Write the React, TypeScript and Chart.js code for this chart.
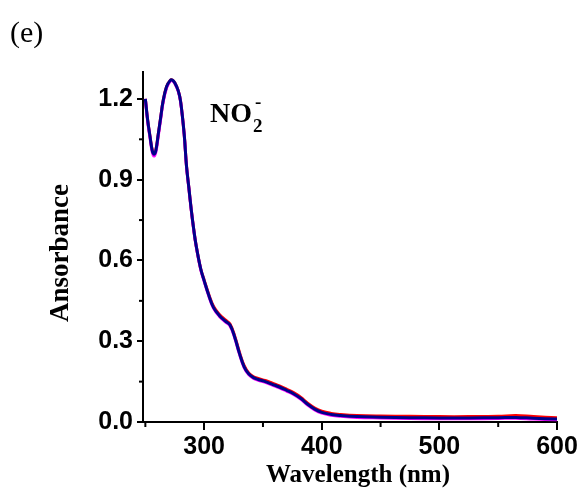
import React, { useEffect, useRef } from "react";
import { Chart, registerables } from "chart.js";

Chart.register(...registerables);

const wavelengths = [250,252,254,256,257.5,259,261,263,265,268,271,273,275,278,280,283,285,287,289,291,293,297,300,304,308,313,318,322,326,330,334,338,342,346,352,358,364,370,376,382,388,394,400,408,416,430,450,475,500,525,550,565,580,600];

const absRed = [1.20,1.12,1.06,1.008,0.998,1.012,1.07,1.13,1.19,1.245,1.268,1.27,1.26,1.23,1.19,1.07,0.95,0.87,0.79,0.72,0.66,0.57,0.527,0.473,0.429,0.399,0.379,0.364,0.319,0.259,0.209,0.181,0.168,0.162,0.154,0.144,0.134,0.122,0.109,0.092,0.07,0.052,0.04,0.032,0.028,0.024,0.022,0.021,0.02,0.02,0.021,0.024,0.02,0.016];

const absMagenta = [1.20,1.115,1.055,1.0,0.988,1.004,1.063,1.125,1.185,1.24,1.265,1.268,1.258,1.228,1.188,1.068,0.948,0.868,0.788,0.718,0.658,0.568,0.522,0.467,0.422,0.392,0.372,0.357,0.312,0.252,0.202,0.175,0.162,0.155,0.147,0.137,0.127,0.115,0.102,0.085,0.063,0.045,0.033,0.025,0.021,0.017,0.015,0.013,0.012,0.012,0.013,0.014,0.011,0.008];

const absBlue = [1.20,1.12,1.06,1.005,0.995,1.01,1.07,1.13,1.19,1.245,1.268,1.27,1.26,1.23,1.19,1.07,0.95,0.87,0.79,0.72,0.66,0.57,0.525,0.47,0.425,0.395,0.375,0.36,0.315,0.255,0.205,0.178,0.165,0.158,0.15,0.14,0.13,0.118,0.105,0.088,0.066,0.048,0.036,0.028,0.024,0.02,0.018,0.016,0.015,0.015,0.016,0.017,0.014,0.011];

const xMajorTicks = [300, 400, 500, 600];
const xMinorTicks = [250, 350, 450, 550];
const yMajorTicks = [0, 0.3, 0.6, 0.9, 1.2];
const yMinorTicks = [0.15, 0.45, 0.75, 1.05];

const xTitle = "Wavelength (nm)";
const yTitle = "Ansorbance";
const panelLabel = "(e)";

const toPoints = (ys: number[]) => wavelengths.map((x, i) => ({ x, y: ys[i] }));

const extras = {
  id: "extras",
  afterDraw(chart: any) {
    const ctx = chart.ctx;
    const xs = chart.scales.x;
    const ys = chart.scales.y;
    const area = chart.chartArea;
    ctx.save();
    ctx.strokeStyle = "#000";
    ctx.lineWidth = 2;
    xMinorTicks.forEach((v) => {
      const px = xs.getPixelForValue(v);
      ctx.beginPath();
      ctx.moveTo(px, area.bottom);
      ctx.lineTo(px, area.bottom + 5);
      ctx.stroke();
    });
    yMinorTicks.forEach((v) => {
      const py = ys.getPixelForValue(v);
      ctx.beginPath();
      ctx.moveTo(area.left, py);
      ctx.lineTo(area.left - 4, py);
      ctx.stroke();
    });
    ctx.fillStyle = "#000";
    ctx.font = '30px "Liberation Serif"';
    ctx.textAlign = "left";
    ctx.textBaseline = "middle";
    ctx.fillText(panelLabel, 10, 34);
    ctx.font = 'bold 28px "Liberation Serif"';
    ctx.textBaseline = "alphabetic";
    ctx.fillText("NO", 210, 122);
    const w = ctx.measureText("NO").width;
    ctx.font = 'bold 19px "Liberation Serif"';
    ctx.fillText("2", 210 + w + 1, 132);
    ctx.fillText("-", 210 + w + 3, 108);
    ctx.font = 'bold 25px "Liberation Serif"';
    ctx.textAlign = "center";
    ctx.textBaseline = "middle";
    ctx.fillText(xTitle, 358, 476);
    ctx.translate(61, 253);
    ctx.rotate(-Math.PI / 2);
    ctx.font = 'bold 27px "Liberation Serif"';
    ctx.fillText(yTitle, 0, 0);
    ctx.restore();
  },
};

export default function App() {
  const ref = useRef<HTMLCanvasElement>(null);
  useEffect(() => {
    if (!ref.current) return;
    const mk = (label: string, data: number[], color: string, width: number, order: number) => ({
      label,
      data: toPoints(data),
      borderColor: color,
      backgroundColor: color,
      borderWidth: width,
      pointRadius: 0,
      tension: 0.4,
      fill: false,
      order,
    });
    const chart = new Chart(ref.current, {
      type: "line",
      data: {
        datasets: [
          mk("red", absRed, "#ff0000", 3, 3),
          mk("magenta", absMagenta, "#ff00ff", 3, 2),
          mk("blue", absBlue, "#00008b", 3, 1),
        ],
      },
      options: {
        responsive: false,
        animation: false,
        devicePixelRatio: 1,
        layout: { padding: { left: 0, top: 72, right: 24, bottom: 0 } },
        plugins: { legend: { display: false }, tooltip: { enabled: false } },
        scales: {
          x: {
            type: "linear",
            min: 248,
            max: 600,
            afterFit: (s: any) => { s.height = 66; },
            afterBuildTicks: (s: any) => { s.ticks = xMajorTicks.map((v) => ({ value: v })); },
            grid: { display: true, drawOnChartArea: false, drawTicks: true, tickLength: 8, color: "#000", lineWidth: 2 },
            border: { display: true, color: "#000", width: 2 },
            ticks: {
              color: "#000",
              padding: 2,
              maxRotation: 0,
              font: { family: '"Liberation Sans"', weight: "bold", size: 25 },
              callback: (v: any) => String(v),
            },
          },
          y: {
            type: "linear",
            min: 0,
            max: 1.3,
            afterFit: (s: any) => { s.width = 143; },
            afterBuildTicks: (s: any) => { s.ticks = yMajorTicks.map((v) => ({ value: v })); },
            grid: { display: true, drawOnChartArea: false, drawTicks: true, tickLength: 6, color: "#000", lineWidth: 2 },
            border: { display: true, color: "#000", width: 2 },
            ticks: {
              color: "#000",
              padding: 4,
              font: { family: '"Liberation Sans"', weight: "bold", size: 25 },
              callback: (v: any) => Number(v).toFixed(1),
            },
          },
        },
      },
      plugins: [extras],
    });
    return () => chart.destroy();
  }, []);
  return (
    <div style={{ position: "fixed", left: 0, top: 0, width: 581, height: 488, background: "#fff" }}>
      <canvas ref={ref} width={581} height={488} />
    </div>
  );
}
